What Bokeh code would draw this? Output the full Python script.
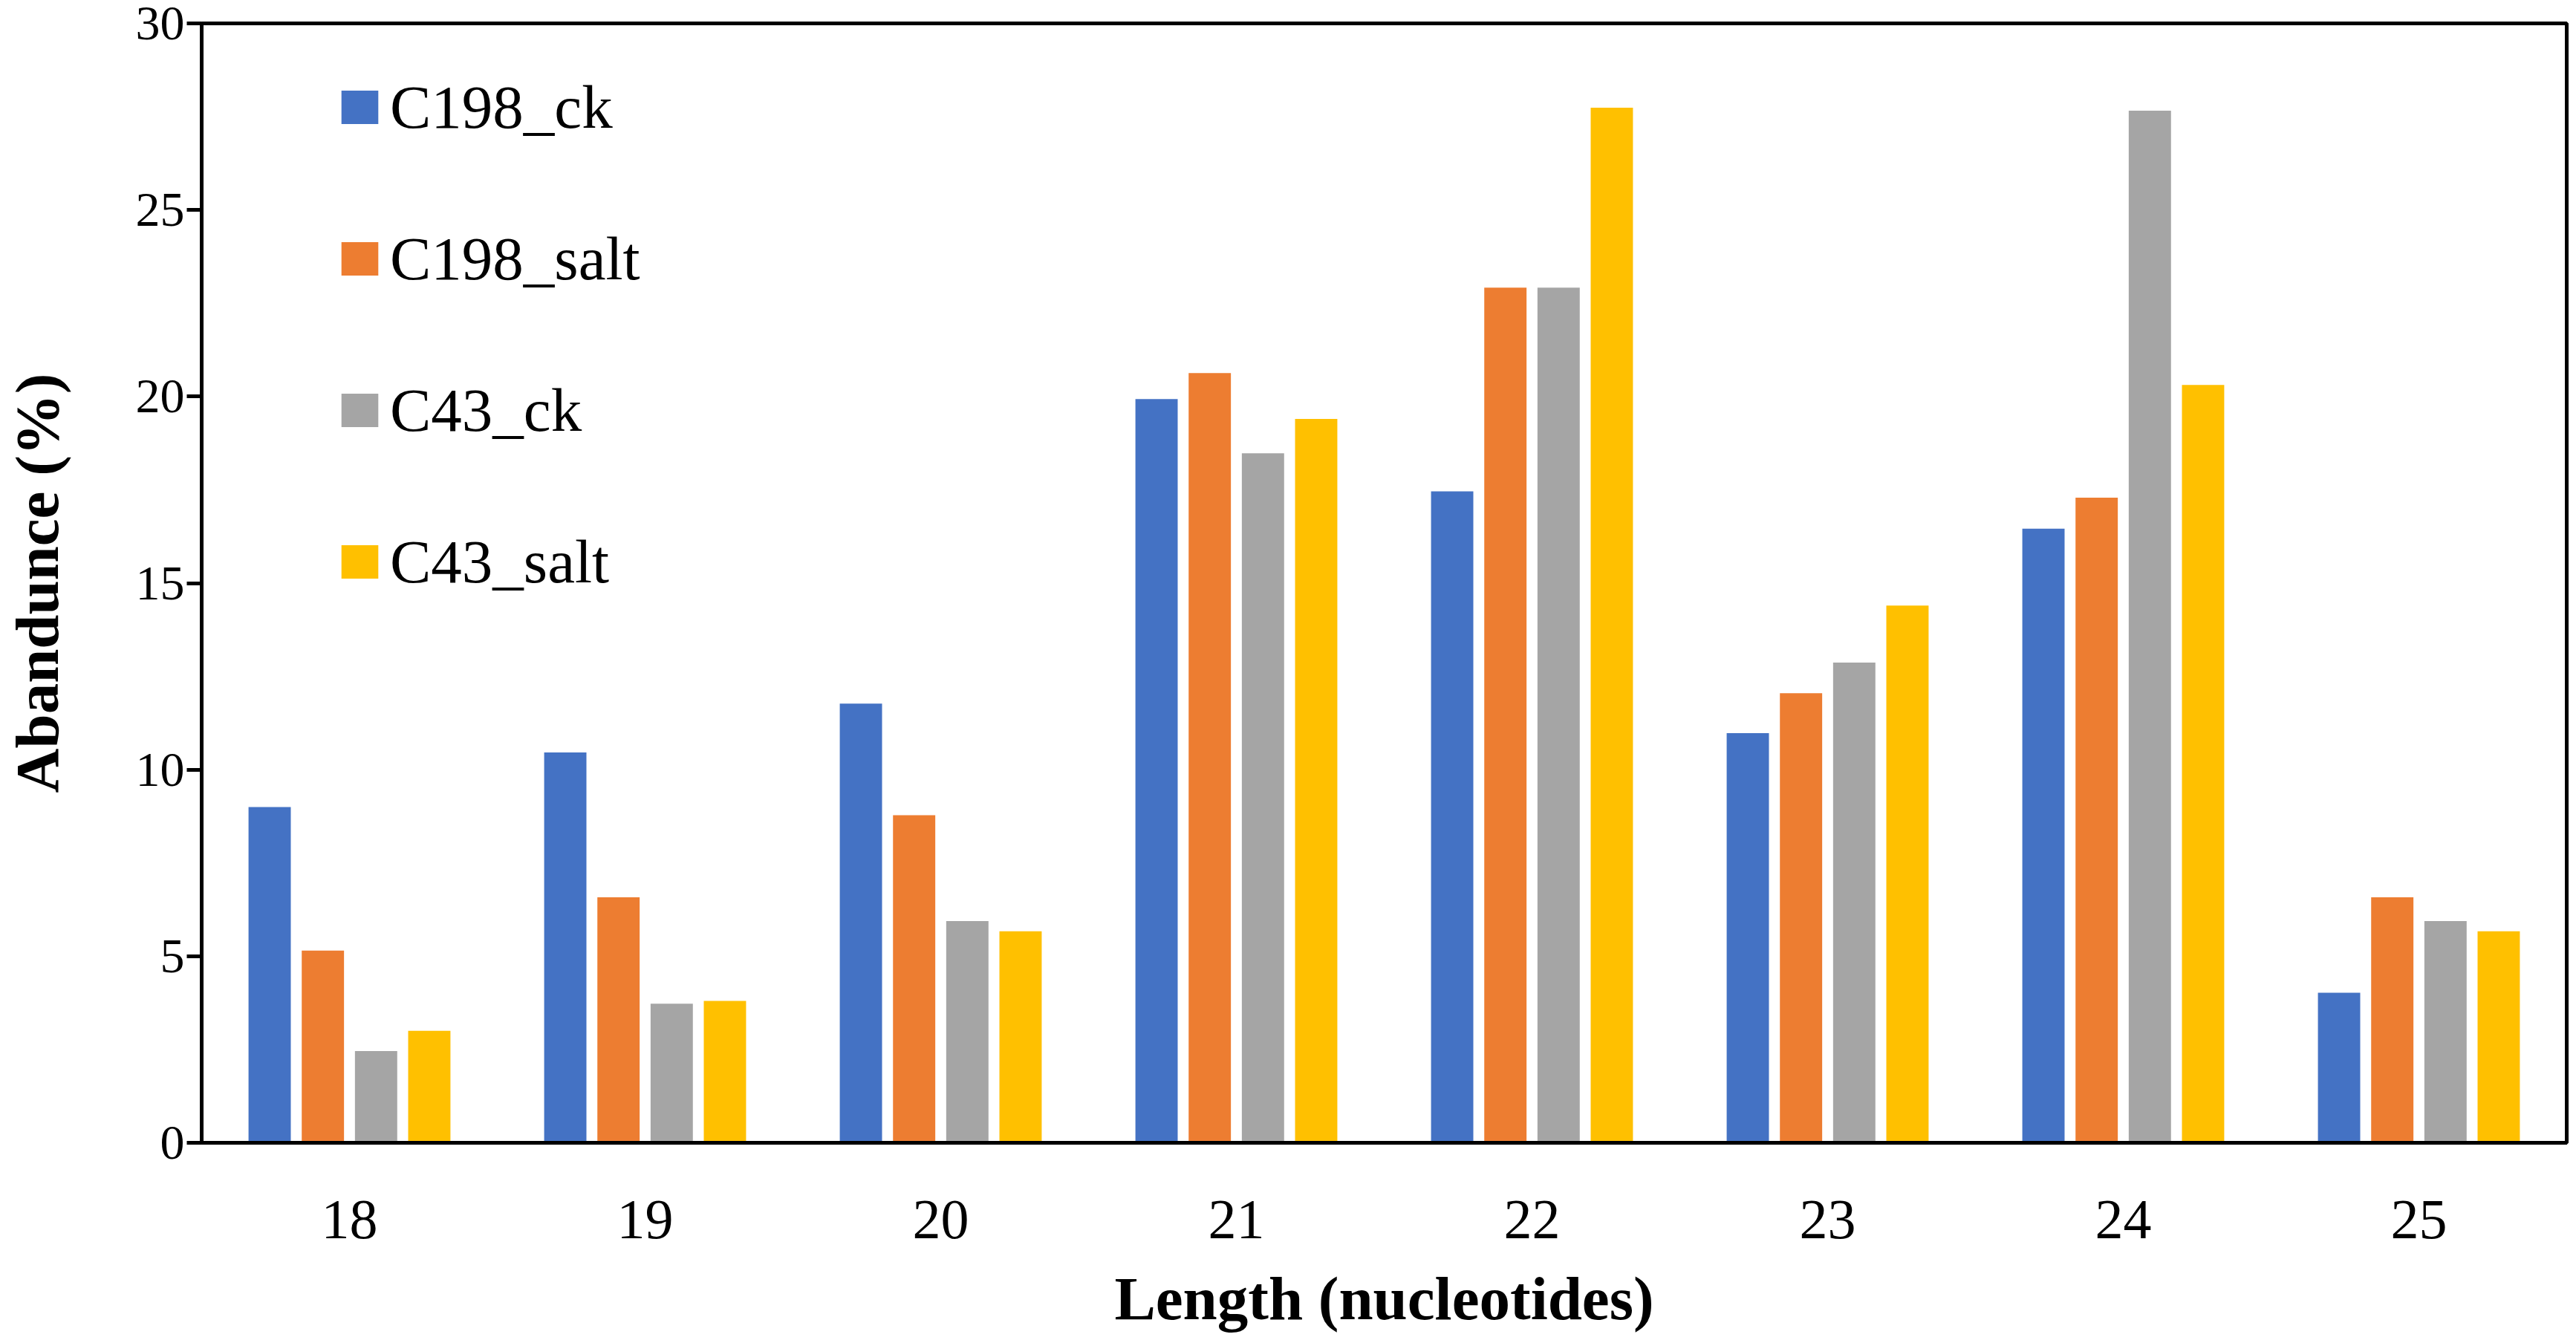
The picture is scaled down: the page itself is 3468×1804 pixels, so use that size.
from bokeh.plotting import figure
from bokeh.models import ColumnDataSource, FactorRange, Range1d, Legend, LegendItem, FixedTicker
from bokeh.transform import dodge
from bokeh.embed import file_html
from bokeh.resources import INLINE

lengths = ["18", "19", "20", "21", "22", "23", "24", "25"]
c198_ck = [9.0, 10.46, 11.77, 19.93, 17.46, 10.98, 16.46, 4.02]
c198_salt = [5.15, 6.58, 8.78, 20.63, 22.92, 12.05, 17.29, 6.58]
c43_ck = [2.46, 3.73, 5.94, 18.48, 22.92, 12.87, 27.66, 5.94]
c43_salt = [3.0, 3.80, 5.67, 19.40, 27.74, 14.40, 20.31, 5.67]
series_names = ["C198_ck", "C198_salt", "C43_ck", "C43_salt"]
colors = ["#4472C4", "#ED7D31", "#A5A5A5", "#FFC000"]
y_ticks = [0, 5, 10, 15, 20, 25, 30]

source = ColumnDataSource(dict(x=lengths, C198_ck=c198_ck, C198_salt=c198_salt,
                               C43_ck=c43_ck, C43_salt=c43_salt))

FONT = "Liberation Serif"
p = figure(width=3460, height=1796, x_range=FactorRange(*lengths, range_padding=0),
           y_range=Range1d(0, 30), output_backend="svg", toolbar_location=None,
           min_border_left=265, min_border_right=5, min_border_top=31, min_border_bottom=254)
p.x_range.range_padding = 0

offsets = [-0.27, -0.09, 0.09, 0.27]
renderers = []
for name, col, off in zip(series_names, colors, offsets):
    r = p.vbar(x=dodge("x", off, range=p.x_range), top=name, width=0.143, bottom=0,
               source=source, fill_color=col, line_color=None)
    renderers.append(r)

legend = Legend(items=[LegendItem(label=n, renderers=[r]) for n, r in zip(series_names, renderers)],
                location=(182, 732), padding=0, margin=0, spacing=104,
                glyph_width=62, glyph_height=56, label_height=100, label_standoff=10,
                label_text_font=FONT, label_text_font_size="83px", label_text_color="black",
                border_line_color=None, background_fill_alpha=0)
p.add_layout(legend)

p.grid.visible = False
p.outline_line_color = "black"
p.outline_line_width = 5
p.background_fill_color = "white"

p.yaxis.ticker = FixedTicker(ticks=y_ticks)
p.yaxis.minor_tick_line_color = None
p.yaxis.major_tick_out = 20
p.yaxis.major_tick_in = 0
p.yaxis.major_tick_line_width = 5
p.yaxis.axis_line_width = 5
p.yaxis.major_label_standoff = 3
p.yaxis.major_label_text_font = FONT
p.yaxis.major_label_text_font_size = "66px"
p.yaxis.axis_label = "Abandunce (%)"
p.yaxis.axis_label_text_font = FONT
p.yaxis.axis_label_text_font_style = "bold"
p.yaxis.axis_label_text_font_size = "83px"
p.yaxis.axis_label_standoff = 84

p.xaxis.major_tick_line_color = None
p.xaxis.major_tick_out = 0
p.xaxis.axis_line_width = 5
p.xaxis.major_label_standoff = 78
p.xaxis.major_label_text_font = FONT
p.xaxis.major_label_text_font_size = "76px"
p.xaxis.axis_label = "Length (nucleotides)"
p.xaxis.axis_label_text_font = FONT
p.xaxis.axis_label_text_font_style = "bold"
p.xaxis.axis_label_text_font_size = "83px"
p.xaxis.axis_label_standoff = 32
p.axis.axis_line_color = "black"
p.axis.major_label_text_color = "black"
p.axis.axis_label_text_color = "black"

open("out.html", "w").write(file_html(p, INLINE))
